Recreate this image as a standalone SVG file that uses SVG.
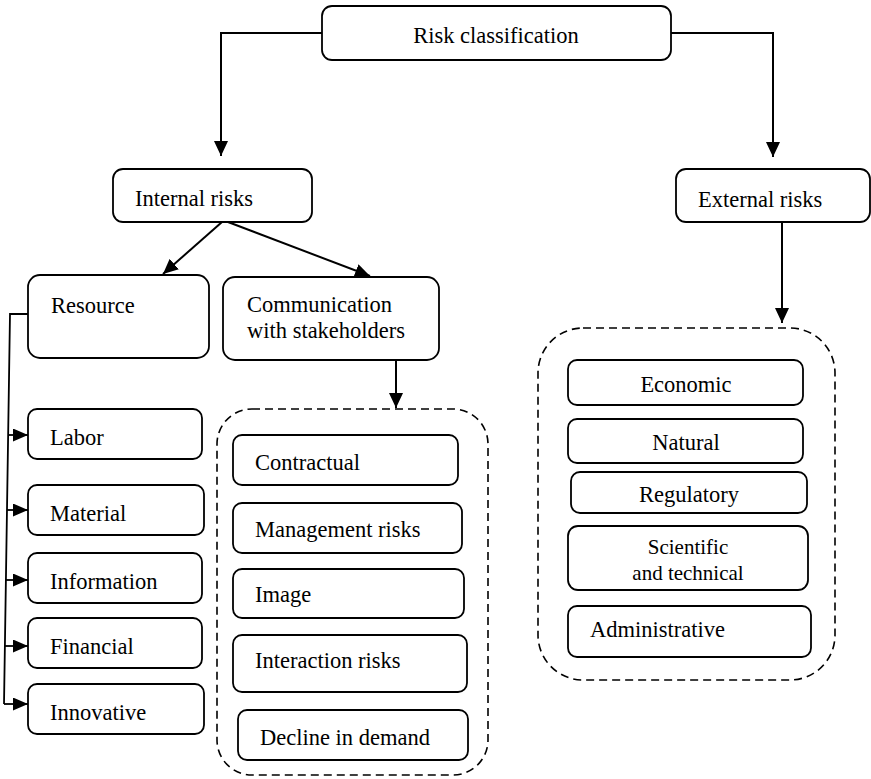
<svg xmlns="http://www.w3.org/2000/svg" width="871" height="779" viewBox="0 0 871 779">
<style>
.box{fill:#fff;stroke:#000;stroke-width:1.8}
.dash{fill:none;stroke:#000;stroke-width:1.6;stroke-dasharray:8 5}
.t{font-family:"Liberation Serif","Times New Roman",serif;font-size:22.5px;fill:#000}
.s{font-size:21px}
.m{text-anchor:middle}
.c{fill:none;stroke:#000;stroke-width:2}
.cs{fill:none;stroke:#000;stroke-width:1.8}
</style>
<defs>
<marker id="ah" markerUnits="userSpaceOnUse" markerWidth="15" markerHeight="14" refX="15" refY="7" orient="auto">
<path d="M0,0 L15,7 L0,14 z" fill="#000"/>
</marker>
<marker id="as" markerUnits="userSpaceOnUse" markerWidth="15" markerHeight="13" refX="15" refY="6.5" orient="auto">
<path d="M0,0 L15,6.5 L0,13 z" fill="#000"/>
</marker>
</defs>

<g id="connectors">
<path class="c" d="M322,33 H221 V156" marker-end="url(#ah)"/>
<path class="c" d="M671,33 H773 V157" marker-end="url(#ah)"/>
<path class="c" d="M222,222 L163,274" marker-end="url(#ah)"/>
<path class="c" d="M228,222 L370,276" marker-end="url(#ah)"/>
<path class="c" d="M396,360 V408" marker-end="url(#ah)"/>
<path class="c" d="M782,222 V323" marker-end="url(#ah)"/>
<path class="cs" d="M28,314 H10 L4,704"/>
<path class="cs" d="M8,435 H28" marker-end="url(#as)"/>
<path class="cs" d="M7,510 H28" marker-end="url(#as)"/>
<path class="cs" d="M6,580 H28" marker-end="url(#as)"/>
<path class="cs" d="M5,646 H28" marker-end="url(#as)"/>
<path class="cs" d="M4,704 H28" marker-end="url(#as)"/>
</g>

<g id="risk-classification">
<rect class="box" x="322" y="6" width="349" height="54" rx="10"/>
<text class="t m" x="496" y="43">Risk classification</text>
</g>

<g id="internal-risks">
<rect class="box" x="113" y="169" width="199" height="53" rx="10"/>
<text class="t" x="135" y="206">Internal risks</text>
</g>

<g id="external-risks">
<rect class="box" x="676" y="169" width="194" height="53" rx="10"/>
<text class="t" x="698" y="207">External risks</text>
</g>

<g id="resource">
<rect class="box" x="28" y="275" width="181" height="83" rx="12"/>
<text class="t" x="51" y="313">Resource</text>
</g>

<g id="communication">
<rect class="box" x="223" y="277" width="216" height="83" rx="12"/>
<text class="t" x="247" y="312">Communication</text>
<text class="t" x="247" y="338">with stakeholders</text>
</g>

<g id="labor"><rect class="box" x="28" y="409" width="174" height="50" rx="9"/><text class="t" x="50" y="445">Labor</text></g>
<g id="material"><rect class="box" x="28" y="485" width="176" height="50" rx="9"/><text class="t" x="50" y="521">Material</text></g>
<g id="information"><rect class="box" x="28" y="553" width="174" height="50" rx="9"/><text class="t" x="50" y="589">Information</text></g>
<g id="financial"><rect class="box" x="28" y="618" width="174" height="50" rx="9"/><text class="t" x="50" y="654">Financial</text></g>
<g id="innovative"><rect class="box" x="28" y="684" width="176" height="50" rx="9"/><text class="t" x="50" y="720">Innovative</text></g>

<g id="communication-group">
<rect class="dash" x="217" y="409" width="271" height="366" rx="35"/>
</g>
<g id="contractual"><rect class="box" x="233" y="435" width="225" height="50" rx="9"/><text class="t" x="255" y="470">Contractual</text></g>
<g id="management-risks"><rect class="box" x="233" y="503" width="229" height="50" rx="9"/><text class="t" x="255" y="537">Management risks</text></g>
<g id="image"><rect class="box" x="233" y="569" width="231" height="49" rx="9"/><text class="t" x="255" y="602">Image</text></g>
<g id="interaction-risks"><rect class="box" x="233" y="635" width="234" height="57" rx="9"/><text class="t" x="255" y="668">Interaction risks</text></g>
<g id="decline-in-demand"><rect class="box" x="238" y="710" width="230" height="50" rx="9"/><text class="t" x="260" y="745">Decline in demand</text></g>

<g id="external-group">
<rect class="dash" x="538" y="328" width="297" height="352" rx="45"/>
</g>
<g id="economic"><rect class="box" x="568" y="360" width="235" height="45" rx="9"/><text class="t m" x="686" y="392">Economic</text></g>
<g id="natural"><rect class="box" x="568" y="419" width="235" height="44" rx="9"/><text class="t m" x="686" y="450">Natural</text></g>
<g id="regulatory"><rect class="box" x="571" y="472" width="236" height="41" rx="9"/><text class="t m" x="689" y="502">Regulatory</text></g>
<g id="scientific"><rect class="box" x="568" y="526" width="240" height="64" rx="10"/><text class="t s m" x="688" y="554">Scientific</text><text class="t s m" x="688" y="580">and technical</text></g>
<g id="administrative"><rect class="box" x="568" y="606" width="243" height="51" rx="9"/><text class="t" x="590" y="637">Administrative</text></g>
</svg>
